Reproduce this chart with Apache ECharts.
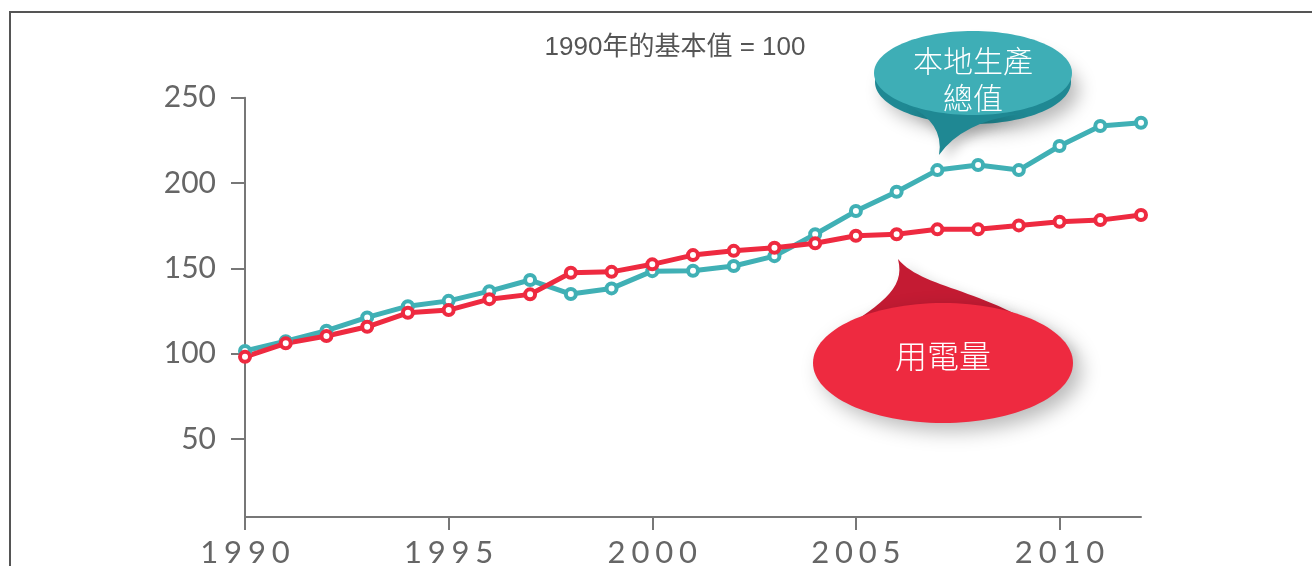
<!DOCTYPE html>
<html>
<head>
<meta charset="utf-8">
<script src="https://cdn.jsdelivr.net/npm/echarts@6/dist/echarts.min.js"></script>
<style>
  html, body { margin: 0; padding: 0; background: #fff; }
  #chart { width: 1312px; height: 566px; }
</style>
</head>
<body>
<div id="chart"></div>
<script>
// 1990 = 100
var years = [1990, 1991, 1992, 1993, 1994, 1995, 1996, 1997, 1998, 1999, 2000,
  2001, 2002, 2003, 2004, 2005, 2006, 2007, 2008, 2009, 2010, 2011, 2012];
var gdp = [101.7, 107.4, 113.5, 121.3, 127.9, 131, 136.7, 143.2, 135, 138.3, 148.4,
  148.6, 151.4, 157.2, 170, 183.6, 194.9, 207.6, 210.6, 207.6, 221.7, 233.4, 235.3];
var power = [98.2, 106.1, 110.4, 115.8, 124, 125.6, 132, 134.8, 147.5, 148, 152.4,
  157.8, 160.3, 162.1, 164.7, 169.1, 170, 172.9, 172.9, 175.2, 177.3, 178.3, 181.3];
var yTicks = [50, 100, 150, 200, 250];
var xTicks = [1990, 1995, 2000, 2005, 2010];

var teal = '#40b0b5';
var red = '#ee2a40';
var axisGrey = '#777';
var labelFont = 'Lato, "Noto Sans", sans-serif';
var cjkFont = '"Noto Sans CJK TC", "Noto Sans CJK SC", sans-serif';

// bubble tails
echarts.graphic.registerShape('tealTail',
  echarts.graphic.extendPath('M 905 104 Q 945 122 939 155 Q 962 122 1020 114 Z', {}));
echarts.graphic.registerShape('redTail',
  echarts.graphic.extendPath('M 826 340 C 880 305 906 290 898 259 C 925 292 1000 288 1070 352 Z', {}));

function pairs(vals) {
  return years.map(function (y, i) { return [y, vals[i]]; });
}

function lineSeries(name, vals, color) {
  return {
    name: name,
    type: 'line',
    data: pairs(vals),
    symbol: 'circle',
    symbolSize: 10,
    showAllSymbol: true,
    lineStyle: { color: color, width: 5 },
    itemStyle: { color: '#fff', borderColor: color, borderWidth: 4 },
    emphasis: { disabled: true },
    animation: false
  };
}

var chart = echarts.init(document.getElementById('chart'), null, { renderer: 'canvas' });

var option = {
  backgroundColor: '#fff',
  animation: false,
  title: {
    text: '1990年的基本值 = 100',
    left: 670,
    top: 30,
    textAlign: 'center',
    textStyle: {
      fontFamily: '"Liberation Sans", ' + cjkFont,
      fontSize: 26,
      fontWeight: 'normal',
      color: '#555'
    }
  },
  grid: {
    left: 245,
    right: 171,
    top: 97.7,
    bottom: 49,
    containLabel: false,
    outerBoundsMode: 'none'
  },
  xAxis: {
    type: 'value',
    min: 1990,
    max: 2012,
    axisLine: { show: true, lineStyle: { color: axisGrey, width: 2 } },
    axisTick: { show: true, length: 13, customValues: xTicks, lineStyle: { color: axisGrey, width: 2 } },
    axisLabel: {
      customValues: xTicks,
      margin: 20,
      color: '#666',
      fontSize: 31,
      fontFamily: labelFont,
      formatter: function (v) { return String(v).split('').join('\u2009\u200a'); }
    },
    splitLine: { show: false }
  },
  yAxis: {
    type: 'value',
    min: 4.4,
    max: 250,
    axisLine: { show: true, lineStyle: { color: axisGrey, width: 2 } },
    axisTick: { show: true, length: 14, customValues: yTicks, lineStyle: { color: axisGrey, width: 2 } },
    axisLabel: {
      customValues: yTicks,
      margin: 29,
      color: '#666',
      fontSize: 30,
      fontFamily: labelFont
    },
    splitLine: { show: false }
  },
  series: [
    lineSeries('本地生產總值', gdp, teal),
    lineSeries('用電量', power, red)
  ],
  graphic: [
    // frame
    {
      type: 'polyline', silent: true, z: 0,
      shape: { points: [[10, 566], [10, 12], [1312, 12]] },
      style: { stroke: '#555', lineWidth: 2, fill: null }
    },
    // teal callout
    {
      type: 'group', z: 20, children: [
        {
          type: 'ellipse', shape: { cx: 973, cy: 82, rx: 98, ry: 42 },
          style: { fill: '#1f8893', shadowBlur: 18, shadowColor: 'rgba(0,0,0,0.28)', shadowOffsetX: 8, shadowOffsetY: 8 }
        },
        {
          type: 'tealTail',
          style: { fill: '#1f8893', shadowBlur: 12, shadowColor: 'rgba(0,0,0,0.2)', shadowOffsetX: 6, shadowOffsetY: 6 }
        },
        {
          type: 'ellipse', shape: { cx: 973, cy: 73, rx: 99, ry: 42 },
          style: { fill: '#3eaeb6' }
        },
        {
          type: 'text', x: 973, y: 42,
          style: {
            text: '本地生產\n總值', fill: '#fff', font: '300 30px ' + cjkFont,
            align: 'center', lineHeight: 37
          }
        }
      ]
    },
    // red callout
    {
      type: 'group', z: 20, children: [
        {
          type: 'redTail',
          style: { fill: '#c41b33', shadowBlur: 14, shadowColor: 'rgba(0,0,0,0.2)', shadowOffsetX: 6, shadowOffsetY: 6 }
        },
        {
          type: 'ellipse', shape: { cx: 943, cy: 363, rx: 130, ry: 60 },
          style: { fill: '#ee2a40', shadowBlur: 20, shadowColor: 'rgba(0,0,0,0.28)', shadowOffsetX: 8, shadowOffsetY: 8 }
        },
        {
          type: 'text', x: 943, y: 340,
          style: {
            text: '用電量', fill: '#fff', font: '300 32px ' + cjkFont,
            align: 'center'
          }
        }
      ]
    }
  ]
};

chart.setOption(option);
</script>
</body>
</html>
